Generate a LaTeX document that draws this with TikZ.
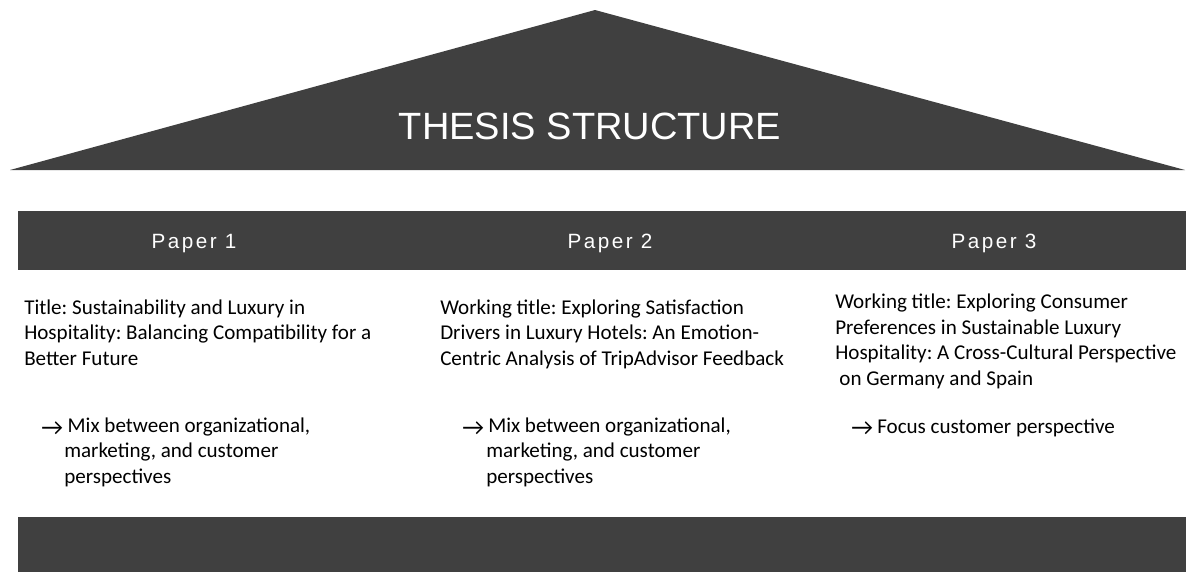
\documentclass[tikz,border=0pt]{standalone}
\usepackage{fontspec}
\setmainfont{Carlito}
\newfontfamily\headfont{Liberation Sans}
\newfontfamily\spacedfont[LetterSpace=12]{Liberation Sans}
\definecolor{roof}{HTML}{404040}
\frenchspacing

\begin{document}
\begin{tikzpicture}
  [
    x=.75pt, y=-.75pt,
    paperhead/.style={text=white, inner sep=0, anchor=base,
      font=\spacedfont\fontsize{15.5}{16}\selectfont},
    paperbody/.style={anchor=base west, align=left, inner sep=0,
      font=\fontsize{15.8}{19.1}\selectfont},
    pointer/.style={anchor=base west, inner sep=0,
      font=\fontsize{18}{20}\selectfont},
  ]
  \useasboundingbox (0,0) rectangle (1186,572);

  % roof
  \fill [roof] (10,170) -- (595,10) -- (1185,170) -- cycle;
  \node (title) [text=white, inner sep=0, anchor=base,
    font=\headfont\fontsize{28.5}{30}\selectfont] at (590,139) {THESIS STRUCTURE};

  % bars
  \fill [roof] (18,211) rectangle (1186,270);
  \fill [roof] (18,517) rectangle (1186,572);

  % paper headers
  \foreach \i/\x in {1/194,2/610,3/994} {
    \node (p\i) [paperhead] at (\x,248) {Paper \i};
  }

  % paper bodies (anchored at the last line)
  \node (t1) [paperbody] at (24,365) {Title: Sustainability and Luxury in\\
    Hospitality: Balancing Compatibility for a\\Better Future};
  \node (a1) [pointer] at (41,435) {→};
  \node (m1) [paperbody] at (64,483) {\hspace*{2.6pt}Mix between organizational,\\
    marketing, and customer\\perspectives};

  \node (t2) [paperbody] at (440,365) {Working title: Exploring Satisfaction\\
    Drivers in Luxury Hotels: An Emotion-\\Centric Analysis of TripAdvisor Feedback};
  \node (a2) [pointer] at (462,435) {→};
  \node (m2) [paperbody] at (486,483) {\hspace*{1.5pt}Mix between organizational,\\
    marketing, and customer\\perspectives};

  \node (t3) [paperbody] at (835,385) {Working title: Exploring Consumer\\
    Preferences in Sustainable Luxury\\Hospitality: A Cross-Cultural Perspective\\
    \hspace*{.2em}on Germany and Spain};
  \node (a3) [pointer] at (851,435) {→};
  \node (m3) [paperbody] at (877,433) {Focus customer perspective};
\end{tikzpicture}
\end{document}
